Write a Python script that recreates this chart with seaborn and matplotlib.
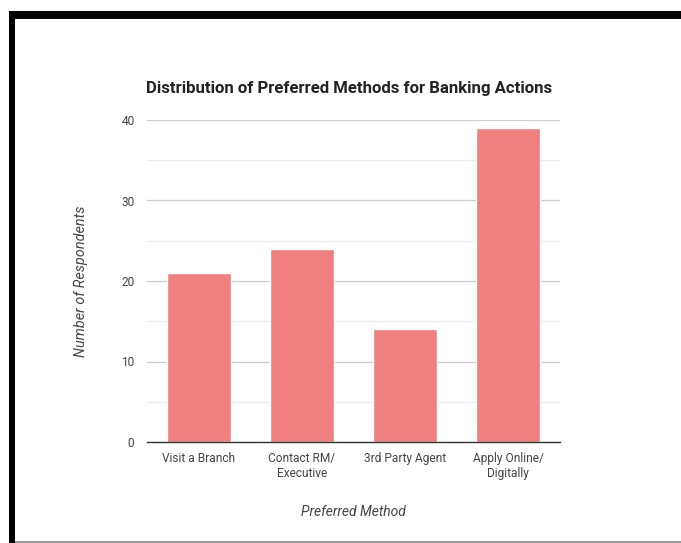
import matplotlib
matplotlib.use("Agg")
import matplotlib.pyplot as plt
import seaborn as sns
import pandas as pd
from matplotlib.patches import Rectangle

categories = ["Visit a Branch", "Contact RM/\nExecutive", "3rd Party Agent", "Apply Online/\nDigitally"]
values = [21, 24, 14, 39]

sns.set_style("white")
plt.rcParams["font.family"] = ["Roboto", "DejaVu Sans"]

W, H = 681, 543
fig = plt.figure(figsize=(W / 100, H / 100), dpi=100)
fig.patch.set_facecolor("white")

ax = fig.add_axes([147 / W, 1 - 442 / H, (560 - 147) / W, (442 - 120) / H])
df = pd.DataFrame({"Method": categories, "Count": values})
sns.barplot(data=df, x="Method", y="Count", color="#F08080", saturation=1, width=0.62, ax=ax, zorder=3)

ax.set_xlim(-0.5, 3.5)
ax.set_ylim(0, 40)
ax.set_yticks([0, 10, 20, 30, 40])
ax.set_yticks([5, 15, 25, 35], minor=True)
ax.grid(axis="y", which="major", color="#cccccc", linewidth=0.9, zorder=0)
ax.grid(axis="y", which="minor", color="#ececec", linewidth=0.9, zorder=0)
for s in ["top", "right", "left"]:
    ax.spines[s].set_visible(False)
ax.spines["bottom"].set_color("#333333")
ax.spines["bottom"].set_linewidth(1.0)
ax.spines["bottom"].set_zorder(4)
ax.tick_params(axis="both", which="both", length=0, labelsize=8.6, colors="#444444")
ax.tick_params(axis="y", pad=9)
ax.tick_params(axis="x", pad=7)

ax.set_xlabel("Preferred Method", fontsize=10, style="italic", color="#444444", labelpad=18)
ax.set_ylabel("Number of Respondents", fontsize=10.4, style="italic", color="#444444", labelpad=24)
fig.text(349 / W, 1 - 88 / H, "Distribution of Preferred Methods for Banking Actions",
         ha="center", va="center", fontsize=12.1, fontweight="bold", color="#222222")

# frame borders from screenshot
fig.patches.append(Rectangle((9 / W, 1 - 19 / H), 1, 8 / H, transform=fig.transFigure,
                             facecolor="black", edgecolor="none", figure=fig))
fig.patches.append(Rectangle((9 / W, 0), 6 / W, 1 - 11 / H, transform=fig.transFigure,
                             facecolor="black", edgecolor="none", figure=fig))
fig.patches.append(Rectangle((15 / W, 0), 1, 2 / H, transform=fig.transFigure,
                             facecolor="#999999", edgecolor="none", figure=fig))

fig.savefig("out.png", dpi=100)
